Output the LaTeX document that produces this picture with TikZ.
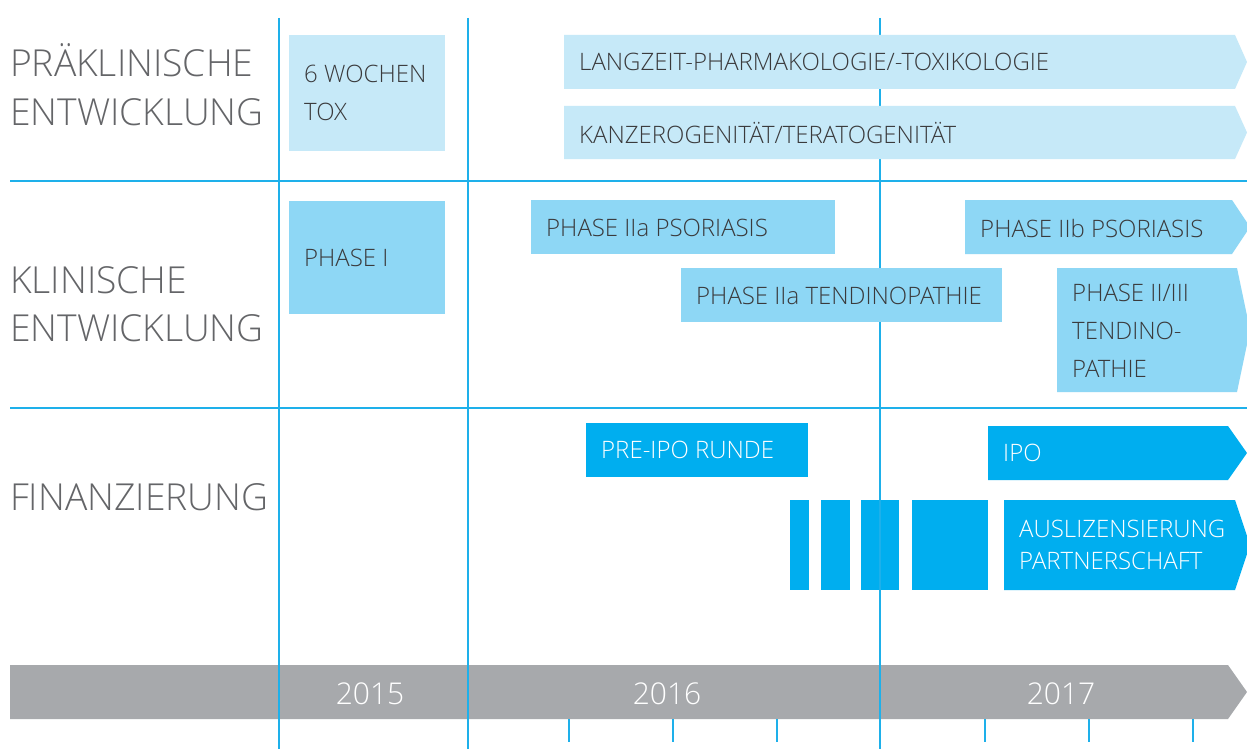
\documentclass[tikz,border=0pt]{standalone}
\usepackage{fontspec}
\IfFontExistsTF{Open Sans Light}{\setmainfont{Open Sans Light}}{\setmainfont{Open Sans}}
\definecolor{lineblue}{RGB}{30,176,234}
\definecolor{boxlight}{RGB}{198,233,248}
\definecolor{boxmid}{RGB}{142,215,245}
\definecolor{boxdark}{RGB}{0,174,239}
\definecolor{tlgray}{RGB}{167,169,172}
\definecolor{labgray}{RGB}{100,101,104}
\definecolor{txtdark}{RGB}{58,58,60}
\begin{document}
\begin{tikzpicture}[x=1pt,y=-1pt,
  gridline/.style={draw=lineblue, line width=1.5pt},
  lbox/.style={fill=boxlight},
  mbox/.style={fill=boxmid},
  dbox/.style={fill=boxdark},
  tlbar/.style={fill=tlgray},
  btxt/.style={anchor=west, inner sep=0pt, align=left, text=txtdark, font=\fontsize{24}{38}\selectfont},
  wtxt/.style={btxt, text=white},
  rowlab/.style={anchor=base west, inner sep=0pt, text=labgray, font=\fontsize{37.2}{46}\selectfont},
  yearlab/.style={anchor=base, inner sep=0pt, text=white, font=\fontsize{30}{36}\selectfont}]
\useasboundingbox (0,0) rectangle (1247,749);
\clip (0,0) rectangle (1247,749);
\fill[white] (0,0) rectangle (1247,749);

% horizontal grid lines
\draw[gridline] (10,181) -- (1247,181);
\draw[gridline] (10,408) -- (1247,408);

% row labels
\node[rowlab] (l1a) at (10,77) {PRÄKLINISCHE};
\node[rowlab] (l1b) at (10,125) {ENTWICKLUNG};
\node[rowlab] (l2a) at (10,293) {KLINISCHE};
\node[rowlab] (l2b) at (10,341) {ENTWICKLUNG};
\node[rowlab] (l3) at (10,510) {FINANZIERUNG};

% row 3 boxes
\fill[dbox] (586,423) rectangle (808,477);
\node[wtxt] (preipo) at (601,450) {PRE-IPO RUNDE};
\fill[dbox] (988,426) -- (1228,426) -- (1247,453) -- (1228,480) -- (988,480) -- cycle;
\node[wtxt] (ipo) at (1003,453) {IPO};
\fill[dbox] (790,500) rectangle (809,590);
\fill[dbox] (821,500) rectangle (850,590);
\fill[dbox] (861,500) rectangle (899,590);
\fill[dbox] (912,500) rectangle (988,590);
\fill[dbox] (1004,500) -- (1235,500) -- (1250,545) -- (1235,590) -- (1004,590) -- cycle;
\node[wtxt, font=\fontsize{24}{32}\selectfont] (ausl) at (1019,545) {AUSLIZENSIERUNG\\PARTNERSCHAFT};

% timeline
\fill[tlbar] (10,665) -- (1228,665) -- (1247,692) -- (1228,719) -- (10,719) -- cycle;
\node[yearlab] (y15) at (370,704) {2015};
\node[yearlab] (y16) at (667,704) {2016};
\node[yearlab] (y17) at (1061,704) {2017};

% vertical grid lines and ticks
\draw[gridline] (279,18) -- (279,749);
\draw[gridline] (468,18) -- (468,749);
\draw[gridline] (880,18) -- (880,749);
\foreach \tx in {569,673,777,985,1089,1193}
  \draw[gridline] (\tx,719) -- (\tx,742);

% row 1 boxes
\fill[lbox] (289,35) rectangle (445,151);
\node[btxt] (tox) at (304,93) {6 WOCHEN\\TOX};
\fill[lbox] (564,35) -- (1235,35) -- (1247,62) -- (1235,89) -- (564,89) -- cycle;
\node[btxt] (langzeit) at (579,62) {LANGZEIT-PHARMAKOLOGIE/-TOXIKOLOGIE};
\fill[lbox] (564,106) -- (1235,106) -- (1247,132.5) -- (1235,159) -- (564,159) -- cycle;
\node[btxt] (kanzero) at (579,132.5) {KANZEROGENITÄT/TERATOGENITÄT};

% row 2 boxes
\fill[mbox] (289,201) rectangle (445,314);
\node[btxt] (ph1) at (304,258) {PHASE I};
\fill[mbox] (531,200) rectangle (835,254);
\node[btxt] (ph2apso) at (546,228) {PHASE IIa PSORIASIS};
\fill[mbox] (965,200) -- (1232,200) -- (1250,227) -- (1232,254) -- (965,254) -- cycle;
\node[btxt] (ph2bpso) at (980,228) {PHASE IIb PSORIASIS};
\fill[mbox] (681,268) rectangle (1002,322);
\node[btxt] (ph2aten) at (696,295.5) {PHASE IIa TENDINOPATHIE};
\fill[mbox] (1057,268) -- (1237,268) -- (1250,330) -- (1237,392) -- (1057,392) -- cycle;
\node[btxt] (ph23) at (1072,330.5) {PHASE II/III\\TENDINO-\\PATHIE};
\end{tikzpicture}
\end{document}
